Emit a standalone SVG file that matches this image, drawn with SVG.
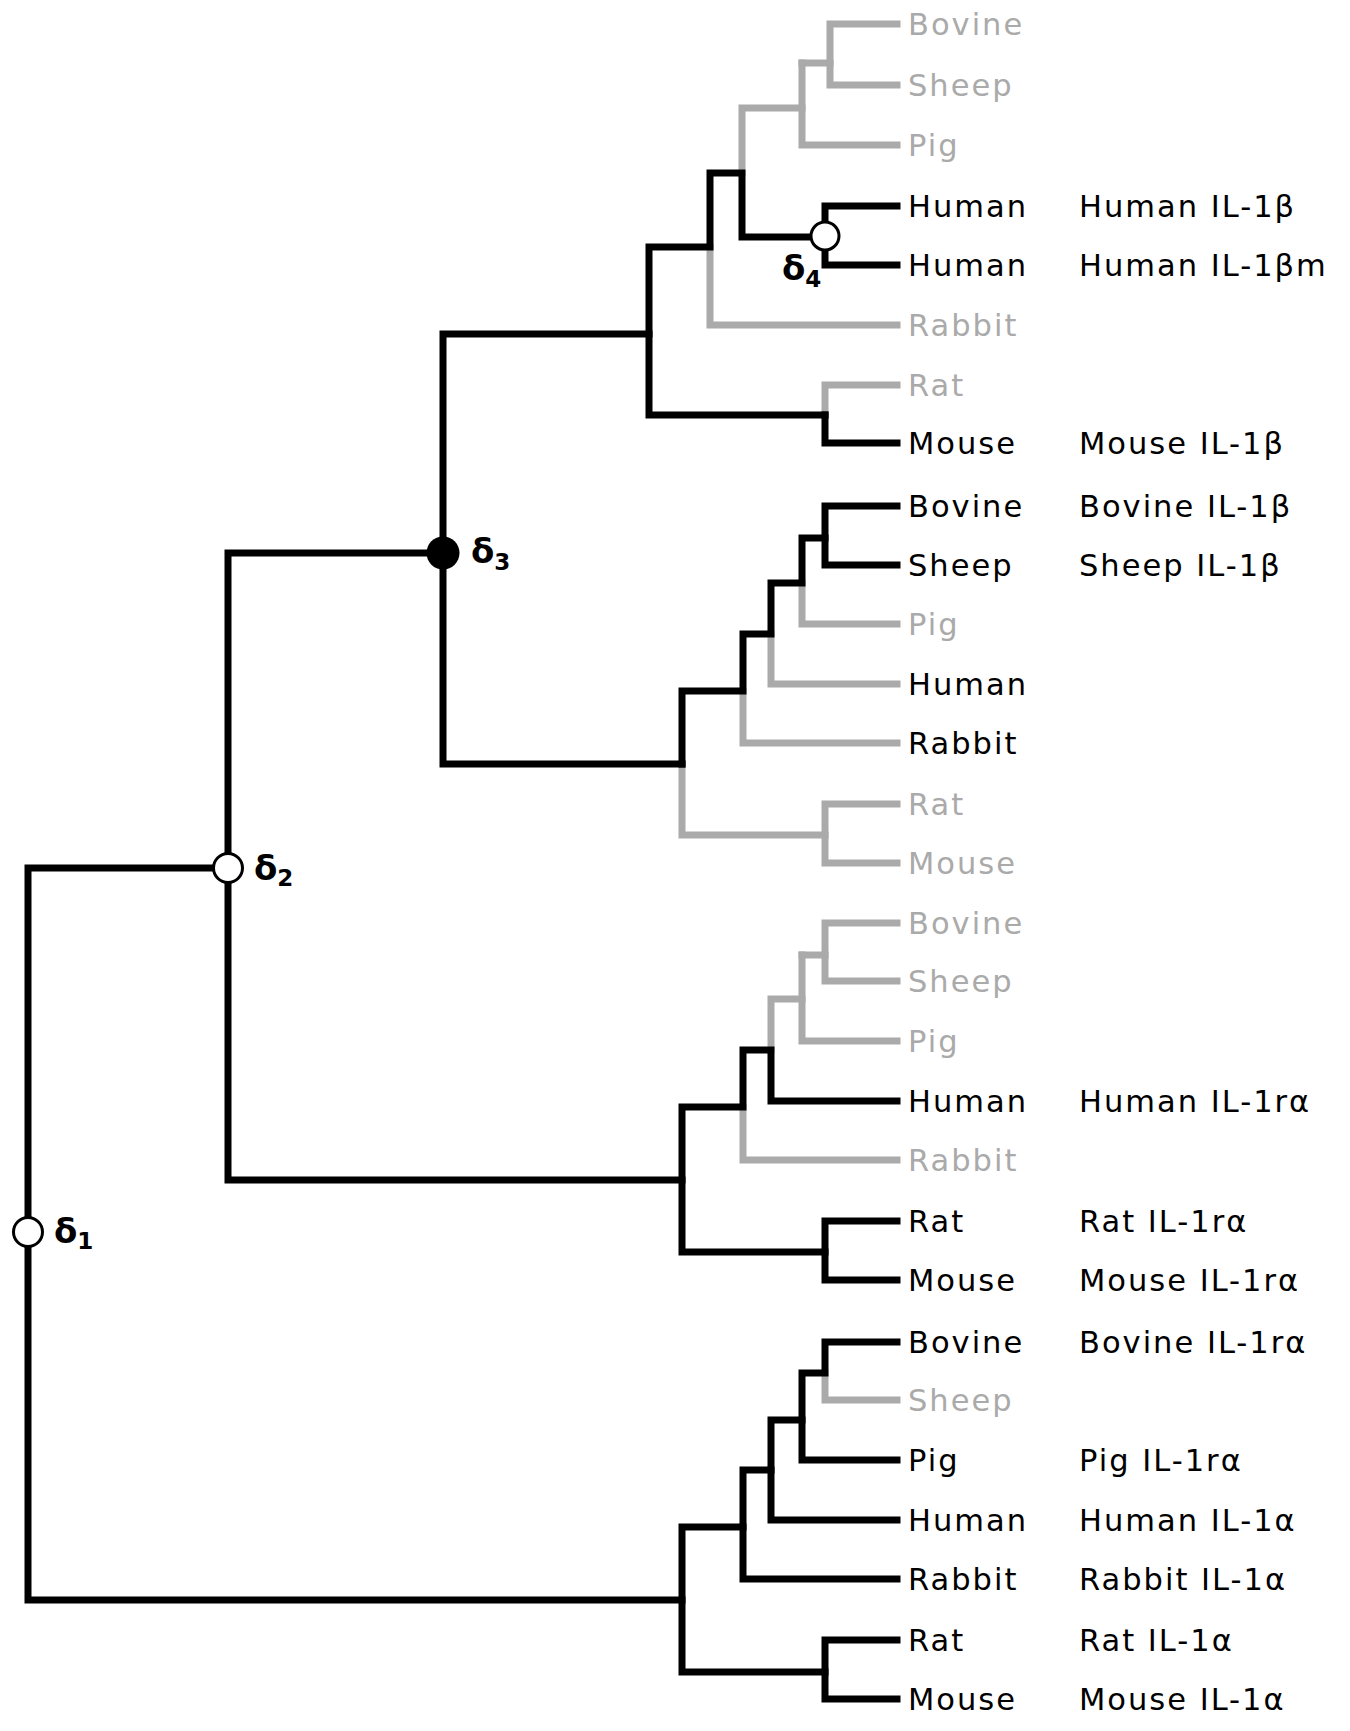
<svg xmlns="http://www.w3.org/2000/svg" width="1350" height="1731" viewBox="0 0 1350 1731">
<style>
.ln{fill:none;stroke-width:7;stroke-linecap:square;stroke-linejoin:miter}
.gl{stroke:#aaaaaa}
.bl{stroke:#000000}
text{font-family:"DejaVu Sans",Verdana,sans-serif;font-size:30.5px;letter-spacing:2px}
.g{fill:#aaaaaa}
.k{fill:#000000}
.d{font-weight:bold;font-size:34px;letter-spacing:0}
.sub{font-size:23px}
.open{fill:#ffffff;stroke:#000000;stroke-width:3}
.full{fill:#000000}
</style>
<rect width="1350" height="1731" fill="#ffffff"/>
<g id="connectors">
<g id="gray-branches" class="ln gl">
<path d="M710 247V325H897"/>
<path d="M742 173V108H802"/>
<path d="M802 63V145H897"/>
<path d="M802 63H830"/>
<path d="M897 24H830V85H897"/>
<path d="M825 415V385H897"/>
<path d="M682 764V835H825"/>
<path d="M897 804H825V863H897"/>
<path d="M743 691V743H897"/>
<path d="M771 634V684H897"/>
<path d="M802 583V624H897"/>
<path d="M743 1107V1160H897"/>
<path d="M771 1050V999H802"/>
<path d="M802 955V1041H897"/>
<path d="M802 955H825"/>
<path d="M897 923H825V981H897"/>
<path d="M825 1373V1400H897"/>
</g>
<g id="black-branches" class="ln bl">
<path d="M228 868H28V1600H682"/>
<path d="M443 553H228V1180H682"/>
<path d="M649 334H443V764H682"/>
<path d="M825 415H649V247H710V173H742V237H825"/>
<path d="M825 415V443H897"/>
<path d="M897 206H825V265H897"/>
<path d="M682 764V691H743V634H771V583H802V538H825"/>
<path d="M897 506H825V565H897"/>
<path d="M825 1252H682V1107H743V1050H771V1101H897"/>
<path d="M897 1221H825V1280H897"/>
<path d="M825 1672H682V1527H743V1470H771V1420H802V1373H825V1342H897"/>
<path d="M743 1527V1579H897"/>
<path d="M771 1470V1520H897"/>
<path d="M802 1420V1460H897"/>
<path d="M897 1640H825V1699H897"/>
</g>
</g>
<g id="node-d1"><circle class="open" cx="28" cy="1232" r="14.5"/><text class="d k" x="54" y="1243">δ<tspan class="sub" dy="6">1</tspan></text></g>
<g id="node-d2"><circle class="open" cx="228" cy="868" r="14.5"/><text class="d k" x="254" y="880">δ<tspan class="sub" dy="6">2</tspan></text></g>
<g id="node-d3"><circle class="full" cx="443" cy="553" r="16.5"/><text class="d k" x="471" y="563">δ<tspan class="sub" dy="7">3</tspan></text></g>
<g id="node-d4"><circle class="open" cx="825" cy="236" r="14"/><text class="d k" x="782" y="280">δ<tspan class="sub" dy="7">4</tspan></text></g>
<g id="leaf-0"><text class="g" x="908" y="35">Bovine</text></g>
<g id="leaf-1"><text class="g" x="908" y="96">Sheep</text></g>
<g id="leaf-2"><text class="g" x="908" y="156">Pig</text></g>
<g id="leaf-3"><text class="k" x="908" y="217">Human</text><text class="k" x="1079" y="217">Human IL-1β</text></g>
<g id="leaf-4"><text class="k" x="908" y="276">Human</text><text class="k" x="1079" y="276">Human IL-1βm</text></g>
<g id="leaf-5"><text class="g" x="908" y="336">Rabbit</text></g>
<g id="leaf-6"><text class="g" x="908" y="396">Rat</text></g>
<g id="leaf-7"><text class="k" x="908" y="454">Mouse</text><text class="k" x="1079" y="454">Mouse IL-1β</text></g>
<g id="leaf-8"><text class="k" x="908" y="517">Bovine</text><text class="k" x="1079" y="517">Bovine IL-1β</text></g>
<g id="leaf-9"><text class="k" x="908" y="576">Sheep</text><text class="k" x="1079" y="576">Sheep IL-1β</text></g>
<g id="leaf-10"><text class="g" x="908" y="635">Pig</text></g>
<g id="leaf-11"><text class="k" x="908" y="695">Human</text></g>
<g id="leaf-12"><text class="k" x="908" y="754">Rabbit</text></g>
<g id="leaf-13"><text class="g" x="908" y="815">Rat</text></g>
<g id="leaf-14"><text class="g" x="908" y="874">Mouse</text></g>
<g id="leaf-15"><text class="g" x="908" y="934">Bovine</text></g>
<g id="leaf-16"><text class="g" x="908" y="992">Sheep</text></g>
<g id="leaf-17"><text class="g" x="908" y="1052">Pig</text></g>
<g id="leaf-18"><text class="k" x="908" y="1112">Human</text><text class="k" x="1079" y="1112">Human IL-1rα</text></g>
<g id="leaf-19"><text class="g" x="908" y="1171">Rabbit</text></g>
<g id="leaf-20"><text class="k" x="908" y="1232">Rat</text><text class="k" x="1079" y="1232">Rat IL-1rα</text></g>
<g id="leaf-21"><text class="k" x="908" y="1291">Mouse</text><text class="k" x="1079" y="1291">Mouse IL-1rα</text></g>
<g id="leaf-22"><text class="k" x="908" y="1353">Bovine</text><text class="k" x="1079" y="1353">Bovine IL-1rα</text></g>
<g id="leaf-23"><text class="g" x="908" y="1411">Sheep</text></g>
<g id="leaf-24"><text class="k" x="908" y="1471">Pig</text><text class="k" x="1079" y="1471">Pig IL-1rα</text></g>
<g id="leaf-25"><text class="k" x="908" y="1531">Human</text><text class="k" x="1079" y="1531">Human IL-1α</text></g>
<g id="leaf-26"><text class="k" x="908" y="1590">Rabbit</text><text class="k" x="1079" y="1590">Rabbit IL-1α</text></g>
<g id="leaf-27"><text class="k" x="908" y="1651">Rat</text><text class="k" x="1079" y="1651">Rat IL-1α</text></g>
<g id="leaf-28"><text class="k" x="908" y="1710">Mouse</text><text class="k" x="1079" y="1710">Mouse IL-1α</text></g>
</svg>
